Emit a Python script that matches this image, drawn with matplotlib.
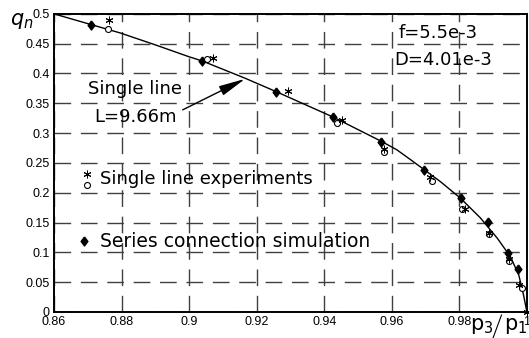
import matplotlib.pyplot as plt

plt.rcParams["font.family"] = ["DejaVu Sans"]
plt.rcParams["mathtext.fontset"] = "custom"
plt.rcParams["mathtext.rm"] = "DejaVu Sans"
plt.rcParams["mathtext.it"] = "DejaVu Sans:italic"

# single line model curve
line_x = [0.86, 0.871, 0.8796, 0.89, 0.90, 0.9039, 0.9166, 0.926, 0.9426,
          0.957, 0.9615, 0.9664, 0.9744, 0.9803, 0.9862, 0.9912, 0.9951,
          0.9976, 0.9991, 1.0]
line_q = [0.50, 0.482, 0.468, 0.448, 0.428, 0.421, 0.392, 0.369, 0.327,
          0.286, 0.272, 0.252, 0.2186, 0.191, 0.158, 0.124, 0.093,
          0.062, 0.026, 0.0]

# series connection simulation (filled diamonds)
sim_x = [0.871, 0.9039, 0.9257, 0.9426, 0.9569, 0.9694, 0.9806, 0.9885,
         0.9943, 0.9975]
sim_q = [0.4815, 0.4217, 0.3696, 0.3277, 0.2857, 0.238, 0.1918, 0.1505,
         0.0995, 0.072]

# single line experiments, circles
exp_o_x = [0.8761, 0.9052, 0.9438, 0.9576, 0.9719, 0.9808, 0.9887, 0.9946,
           0.9986]
exp_o_q = [0.4748, 0.4245, 0.3166, 0.269, 0.2203, 0.1728, 0.130, 0.086,
           0.0408]

# single line experiments, asterisks
exp_s_x = [0.8764, 0.9072, 0.9294, 0.9452, 0.9578, 0.9712, 0.9818, 0.9887,
           0.9948, 0.9976, 1.0]
exp_s_q = [0.490, 0.4267, 0.3708, 0.322, 0.274, 0.226, 0.1728, 0.132,
           0.089, 0.045, 0.0]

x_ticks = [0.86, 0.88, 0.9, 0.92, 0.94, 0.96, 0.98, 1.0]
x_tick_labels = ["0.86", "0.88", "0.9", "0.92", "0.94", "0.96", "0.98", "1"]
y_ticks = [0, 0.05, 0.1, 0.15, 0.2, 0.25, 0.3, 0.35, 0.4, 0.45, 0.5]
y_tick_labels = ["0", "0.05", "0.1", "0.15", "0.2", "0.25", "0.3", "0.35",
                 "0.4", "0.45", "0.5"]

asterisk = (6, 2, 0)
diamond = [(0, 1), (0.75, 0), (0, -1), (-0.75, 0), (0, 1)]

figure = plt.figure(figsize=(5.29, 3.38), dpi=100)
axis = figure.add_axes([0.102, 0.077, 0.894, 0.882])

axis.plot(line_x, line_q, color="black", linewidth=1.0, zorder=3)
axis.plot(sim_x, sim_q, linestyle="none", marker=diamond, markersize=6.5,
          color="black", zorder=4)
axis.plot(exp_o_x, exp_o_q, linestyle="none", marker="o", markersize=4.3,
          markerfacecolor="white", markeredgecolor="black",
          markeredgewidth=0.8, zorder=5)
axis.plot(exp_s_x, exp_s_q, linestyle="none", marker=asterisk, markersize=5.5,
          color="black", markeredgewidth=0.7, zorder=5, clip_on=False)

axis.set_xlim(0.86, 1.0)
axis.set_ylim(0, 0.5)
axis.set_xticks(x_ticks)
axis.set_xticklabels(x_tick_labels)
axis.set_yticks(y_ticks)
axis.set_yticklabels(y_tick_labels)
axis.tick_params(length=0, labelsize=9, pad=3)
for label in axis.get_xticklabels() + axis.get_yticklabels():
    label.set_family("Liberation Sans")

axis.grid(color="#404040", linestyle=(0, (12, 7)), linewidth=1.0)
for spine in axis.spines.values():
    spine.set_linewidth(1.4)

# axis labels placed like the original
axis.text(-0.092, 0.975, r"$q_n$", transform=axis.transAxes, fontsize=15,
          ha="left", va="center")
figure.text(0.889, 0.024, r"$\mathrm{p_3}$", fontsize=15, ha="left",
            va="baseline")
figure.text(0.953, 0.024, r"$\mathrm{p_1}$", fontsize=15, ha="left",
            va="baseline")
figure.add_artist(plt.Line2D([0.948, 0.932], [0.068, 0.0], color="black",
                             linewidth=0.8))

axis.text(0.962, 0.468, "f=5.5e-3", fontsize=13, va="center")
axis.text(0.9606, 0.423, "D=4.01e-3", fontsize=13, va="center")

axis.text(0.884, 0.374, "Single line", fontsize=13, ha="center", va="center")
axis.text(0.884, 0.327, "L=9.66m", fontsize=13, ha="center", va="center")
axis.annotate("", xy=(0.9166, 0.391), xytext=(0.8981, 0.339),
              arrowprops=dict(arrowstyle="-|>,head_length=0.9,head_width=0.17",
                              color="black", lw=1.0, mutation_scale=18,
                              shrinkA=0, shrinkB=0))

# in-plot key
axis.plot([0.8698], [0.2315], marker=asterisk, markersize=5.5, color="black",
          markeredgewidth=0.7)
axis.plot([0.8698], [0.213], marker="o", markersize=4.3,
          markerfacecolor="white", markeredgecolor="black",
          markeredgewidth=0.8)
axis.text(0.8736, 0.223, "Single line experiments", fontsize=13,
          va="center")
axis.plot([0.869], [0.119], marker=diamond, markersize=6.5, color="black")
axis.text(0.8736, 0.118, "Series connection simulation", fontsize=13.5,
          va="center")

figure.savefig("out.png", dpi=100)
plt.close(figure)
